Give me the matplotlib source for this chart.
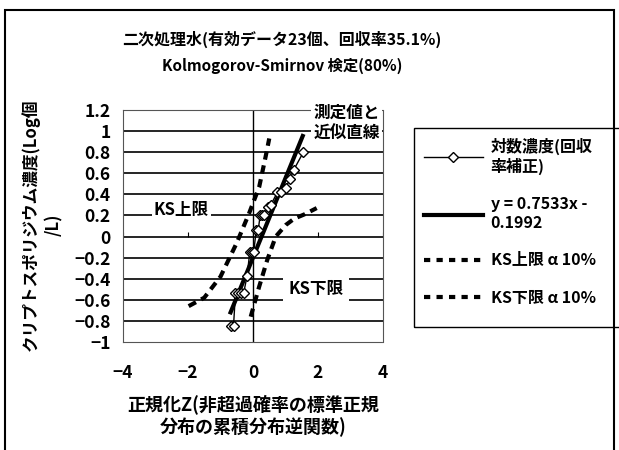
import matplotlib
matplotlib.use("Agg")
import matplotlib.pyplot as plt
from matplotlib.lines import Line2D
from matplotlib.patches import Rectangle

plt.rcParams['font.family'] = ['Noto Sans CJK JP', 'DejaVu Sans']
plt.rcParams['font.weight'] = 'bold'

# ---- data ----
z_obs = [-0.69, -0.60, -0.54, -0.45, -0.37, -0.29, -0.18, -0.10, -0.04, 0.02,
         0.10, 0.16, 0.22, 0.28, 0.34, 0.45, 0.55, 0.75, 0.85, 1.00, 1.15, 1.25, 1.55]
logc = [-0.85, -0.85, -0.54, -0.54, -0.54, -0.54, -0.37, -0.15, -0.15, -0.15,
        0.06, 0.06, 0.20, 0.20, 0.20, 0.28, 0.30, 0.42, 0.42, 0.46, 0.55, 0.63, 0.80]

fit_slope = 0.7533
fit_intercept = -0.1992
fit_x = [-0.69, 1.53]

ks_up_x = [-1.98, -1.50, -1.00, -0.50, -0.12, 0.19, 0.39, 0.50]
ks_up_y = [-0.66, -0.58, -0.38, -0.06, 0.22, 0.47, 0.76, 0.93]

ks_lo_x = [-0.07, 0.19, 0.44, 0.70, 1.01, 1.27, 1.58, 1.96]
ks_lo_y = [-0.76, -0.475, -0.22, 0.00, 0.11, 0.17, 0.21, 0.27]

xticks = [-4, -2, 0, 2, 4]
yticks = [-1, -0.8, -0.6, -0.4, -0.2, 0, 0.2, 0.4, 0.6, 0.8, 1, 1.2]
ytick_labels = ['−1', '−0.8', '−0.6', '−0.4', '−0.2', '0', '0.2', '0.4', '0.6', '0.8', '1', '1.2']
xtick_labels = ['−4', '−2', '0', '2', '4']

title1 = '二次処理水(有効データ23個、回収率35.1%)'
title2 = 'Kolmogorov-Smirnov 検定(80%)'
ylabel = 'クリプトスポリジウム濃度(Log個\n/L)'
xlabel = '正規化Z(非超過確率の標準正規\n分布の累積分布逆関数)'
leg_labels = ['対数濃度(回収\n率補正)', 'y = 0.7533x -\n0.1992', 'KS上限 α 10%', 'KS下限 α 10%']

W, H = 619, 450
fig = plt.figure(figsize=(W / 100, H / 100), dpi=100)

def fx(px):
    return px / W

def fy(py):
    return 1 - py / H

# outer frame
fig.patches.append(Rectangle((fx(5), fy(455)), fx(614) - fx(5), fy(10) - fy(455),
                             transform=fig.transFigure, fill=False, lw=1.5, ec='black'))
# legend frame
fig.patches.append(Rectangle((fx(414), fy(327)), fx(640) - fx(414), fy(128) - fy(327),
                             transform=fig.transFigure, fill=False, lw=1.0, ec='black'))

ax = fig.add_axes([fx(123), fy(342), fx(383) - fx(123), fy(110) - fy(342)])
ax.set_xlim(-4, 4)
ax.set_ylim(-1, 1.2)

for s in ax.spines.values():
    s.set_linestyle((0, (2, 1)))
    s.set_linewidth(0.8)
    s.set_edgecolor('#555555')

for yv in yticks[1:]:
    ax.axhline(yv, color='black', lw=1.2, zorder=1)
ax.axvline(0, color='black', lw=1.0, zorder=1)
# small ticks on the horizontal axis at y=0
ax.vlines(xticks, 0, 0.04, color='black', lw=0.8, zorder=1)

ax.set_xticks(xticks)
ax.set_xticklabels(xtick_labels)
ax.set_yticks(yticks)
ax.set_yticklabels(ytick_labels)
ax.tick_params(axis='both', length=0, labelsize=12.5)
ax.tick_params(axis='y', pad=9)
ax.tick_params(axis='x', pad=16)
for lbl in ax.get_xticklabels() + ax.get_yticklabels():
    lbl.set_fontweight('bold')

ks_style = dict(color='black', lw=3, linestyle=(0, (2, 1.4)), zorder=3)
ax.plot(ks_up_x, ks_up_y, **ks_style)
ax.plot(ks_lo_x, ks_lo_y, **ks_style)

fit_y = [fit_slope * v + fit_intercept for v in fit_x]
ax.plot(fit_x, fit_y, color='black', lw=3, zorder=4)
ax.plot(z_obs, logc, color='black', lw=1, marker='D', ms=5, mfc='white', mec='black',
        mew=1, zorder=5)

bbox = dict(facecolor='white', edgecolor='none', pad=1.5)
ax.text(2.88, 1.075, '測定値と\n近似直線', ha='center', va='center', fontsize=12,
        fontweight='bold', bbox=bbox, zorder=6, clip_on=False, linespacing=1.2)
ax.text(-2.2, 0.25, 'KS上限', ha='center', va='center', fontsize=12,
        fontweight='bold', bbox=bbox, zorder=6)
ax.text(1.95, -0.50, 'KS下限', ha='center', va='center', fontsize=12,
        fontweight='bold', bbox=dict(facecolor='white', edgecolor='none', pad=4), zorder=6)

fig.text(fx(282), fy(39), title1, ha='center', va='center', fontsize=11.5, fontweight='bold')
fig.text(fx(282), fy(66), title2, ha='center', va='center', fontsize=11, fontweight='bold')

fig.text(fx(42), fy(225), ylabel, ha='center', va='center', rotation=90, fontsize=12,
         fontweight='bold', multialignment='center', linespacing=1.4)
fig.text(fx(253), fy(416), xlabel, ha='center', va='center', fontsize=13,
         fontweight='bold', multialignment='center', linespacing=1.2)

handles = [
    Line2D([], [], color='black', lw=1, marker='D', ms=5, mfc='white', mec='black'),
    Line2D([], [], color='black', lw=3),
    Line2D([], [], color='black', lw=3, linestyle=(0, (1.5, 1.5))),
    Line2D([], [], color='black', lw=3, linestyle=(0, (1.5, 1.5))),
]
leg = fig.legend(handles, leg_labels, loc='upper left', bbox_to_anchor=(fx(414), fy(128)),
                 frameon=False, fontsize=11.5,
                 handlelength=3.7, handletextpad=0.5, labelspacing=1.35,
                 borderpad=0.6, borderaxespad=0)
for t in leg.get_texts():
    t.set_fontweight('bold')

fig.savefig('out.png', dpi=100)
